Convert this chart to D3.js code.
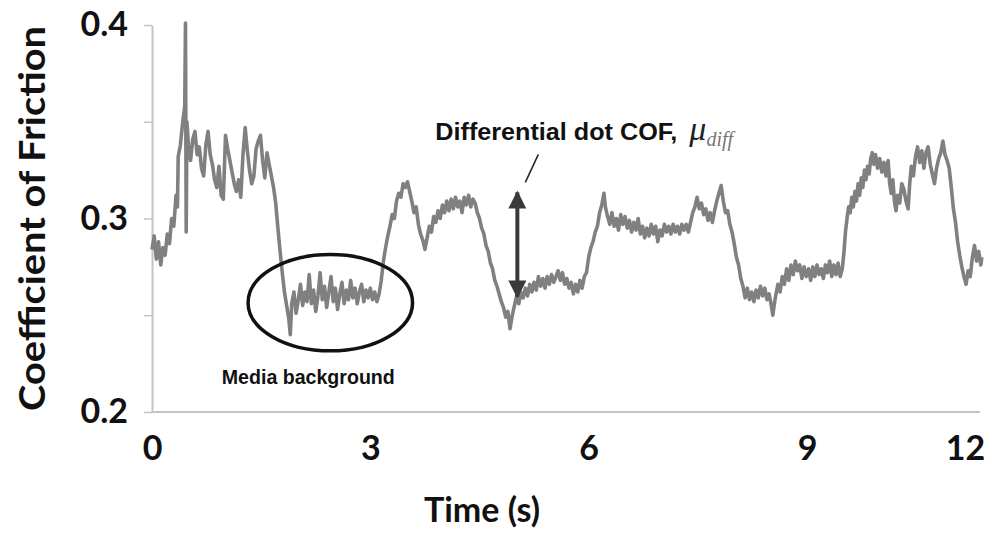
<!DOCTYPE html>
<html>
<head>
<meta charset="utf-8">
<script src="https://cdn.jsdelivr.net/npm/d3@7/dist/d3.min.js"></script>
<style>
body { margin: 0; background: #fff; }
</style>
</head>
<body>
<div id="chart"></div>
<script>
// time (s), coefficient of friction
var cof = [
    [0.00,0.284],[0.03,0.291],[0.06,0.279],[0.09,0.288],[0.12,0.276],[0.15,0.285],[0.18,0.281],
    [0.21,0.292],[0.24,0.287],[0.27,0.300],[0.30,0.296],[0.33,0.312],[0.35,0.306],[0.36,0.332],
    [0.39,0.338],[0.42,0.349],[0.45,0.358],[0.46,0.401],[0.47,0.293],[0.48,0.350],
    [0.50,0.338],[0.53,0.330],[0.56,0.341],[0.59,0.345],[0.62,0.333],[0.65,0.337],[0.68,0.326],
    [0.71,0.322],[0.74,0.338],[0.77,0.345],[0.80,0.333],[0.83,0.328],[0.86,0.320],[0.89,0.316],
    [0.92,0.327],[0.95,0.312],[0.98,0.310],[1.01,0.343],[1.04,0.336],[1.07,0.330],[1.10,0.324],
    [1.13,0.318],[1.16,0.314],[1.19,0.320],[1.22,0.311],[1.25,0.333],[1.28,0.347],[1.31,0.335],
    [1.34,0.325],[1.37,0.318],[1.40,0.322],[1.43,0.336],[1.46,0.340],[1.49,0.343],[1.52,0.330],
    [1.55,0.321],[1.58,0.334],[1.61,0.328],[1.64,0.322],[1.67,0.316],[1.70,0.308],[1.73,0.295],
    [1.76,0.283],[1.79,0.272],[1.82,0.262],[1.85,0.255],[1.88,0.248],[1.90,0.240],[1.92,0.256],
    [1.95,0.262],[1.98,0.251],[2.01,0.258],[2.04,0.266],[2.07,0.255],[2.10,0.262],[2.13,0.257],
    [2.16,0.271],[2.19,0.256],[2.22,0.263],[2.25,0.252],[2.28,0.260],[2.31,0.272],[2.34,0.258],
    [2.37,0.265],[2.40,0.254],[2.43,0.262],[2.46,0.270],[2.49,0.257],[2.52,0.264],[2.55,0.253],
    [2.58,0.261],[2.61,0.267],[2.64,0.256],[2.67,0.263],[2.70,0.258],[2.73,0.268],[2.76,0.259],
    [2.79,0.264],[2.82,0.256],[2.85,0.262],[2.88,0.266],[2.91,0.257],[2.94,0.263],[2.97,0.259],
    [3.00,0.264],[3.03,0.258],[3.06,0.262],[3.09,0.257],[3.12,0.261],[3.15,0.268],[3.18,0.278],
    [3.21,0.285],[3.24,0.291],[3.27,0.296],[3.30,0.302],[3.33,0.300],[3.36,0.309],[3.39,0.313],
    [3.42,0.311],[3.45,0.318],[3.48,0.316],[3.51,0.319],[3.54,0.314],[3.57,0.309],[3.60,0.303],
    [3.63,0.306],[3.66,0.297],[3.69,0.292],[3.72,0.289],[3.75,0.284],[3.78,0.290],[3.81,0.296],
    [3.84,0.293],[3.87,0.301],[3.90,0.298],[3.93,0.304],[3.96,0.300],[3.99,0.307],[4.02,0.303],
    [4.05,0.309],[4.08,0.304],[4.11,0.310],[4.14,0.305],[4.17,0.311],[4.20,0.306],[4.23,0.309],
    [4.26,0.303],[4.29,0.311],[4.32,0.307],[4.35,0.312],[4.38,0.306],[4.41,0.310],[4.44,0.308],
    [4.47,0.303],[4.50,0.300],[4.53,0.295],[4.56,0.292],[4.59,0.286],[4.62,0.283],[4.65,0.277],
    [4.68,0.274],[4.71,0.268],[4.74,0.265],[4.77,0.261],[4.80,0.257],[4.83,0.254],[4.86,0.249],
    [4.89,0.252],[4.92,0.243],[4.95,0.250],[4.98,0.255],[5.01,0.260],[5.04,0.256],[5.07,0.262],
    [5.10,0.259],[5.13,0.264],[5.16,0.260],[5.19,0.266],[5.22,0.262],[5.25,0.267],[5.28,0.263],
    [5.31,0.270],[5.34,0.265],[5.37,0.269],[5.40,0.264],[5.43,0.270],[5.46,0.266],[5.49,0.271],
    [5.52,0.267],[5.55,0.270],[5.58,0.273],[5.61,0.268],[5.64,0.272],[5.67,0.266],[5.70,0.269],
    [5.73,0.264],[5.76,0.267],[5.79,0.261],[5.82,0.266],[5.85,0.262],[5.88,0.268],[5.91,0.264],
    [5.94,0.270],[5.97,0.272],[6.00,0.280],[6.03,0.285],[6.06,0.288],[6.09,0.293],[6.12,0.296],
    [6.15,0.303],[6.18,0.307],[6.21,0.313],[6.23,0.306],[6.26,0.301],[6.29,0.297],[6.32,0.303],
    [6.35,0.296],[6.38,0.300],[6.41,0.294],[6.44,0.302],[6.47,0.297],[6.50,0.301],[6.53,0.295],
    [6.56,0.299],[6.59,0.293],[6.62,0.298],[6.65,0.294],[6.68,0.300],[6.71,0.292],[6.74,0.296],
    [6.77,0.290],[6.80,0.295],[6.83,0.291],[6.86,0.297],[6.89,0.292],[6.92,0.296],[6.95,0.288],
    [6.98,0.294],[7.01,0.291],[7.04,0.297],[7.07,0.293],[7.10,0.296],[7.13,0.292],[7.16,0.297],
    [7.19,0.293],[7.22,0.296],[7.25,0.292],[7.28,0.297],[7.31,0.294],[7.34,0.297],[7.37,0.293],
    [7.40,0.298],[7.43,0.303],[7.46,0.306],[7.49,0.311],[7.52,0.305],[7.55,0.308],[7.58,0.302],
    [7.61,0.305],[7.64,0.299],[7.67,0.303],[7.70,0.298],[7.73,0.304],[7.76,0.309],[7.79,0.313],
    [7.82,0.317],[7.85,0.309],[7.88,0.303],[7.91,0.304],[7.94,0.297],[7.97,0.293],[8.00,0.287],
    [8.03,0.280],[8.06,0.276],[8.09,0.269],[8.12,0.265],[8.15,0.259],[8.18,0.264],[8.21,0.258],
    [8.24,0.262],[8.27,0.257],[8.30,0.263],[8.33,0.259],[8.36,0.265],[8.39,0.260],[8.42,0.264],
    [8.45,0.258],[8.48,0.261],[8.51,0.255],[8.53,0.250],[8.56,0.258],[8.60,0.266],[8.63,0.262],
    [8.66,0.270],[8.69,0.266],[8.72,0.274],[8.75,0.268],[8.78,0.276],[8.81,0.271],[8.84,0.278],
    [8.87,0.273],[8.90,0.276],[8.93,0.269],[8.96,0.275],[8.99,0.270],[9.03,0.274],[9.07,0.268],
    [9.11,0.275],[9.15,0.270],[9.19,0.276],[9.23,0.271],[9.27,0.274],[9.31,0.269],[9.35,0.276],
    [9.39,0.272],[9.43,0.278],[9.47,0.270],[9.51,0.276],[9.55,0.271],[9.59,0.277],[9.63,0.270],
    [9.67,0.274],[9.70,0.282],[9.73,0.293],[9.76,0.300],[9.79,0.306],[9.82,0.303],[9.85,0.311],
    [9.88,0.306],[9.91,0.314],[9.94,0.309],[9.97,0.318],[10.00,0.312],[10.03,0.321],[10.06,0.316],
    [10.09,0.325],[10.12,0.320],[10.15,0.327],[10.18,0.323],[10.21,0.331],[10.24,0.334],[10.27,0.328],
    [10.30,0.333],[10.34,0.326],[10.38,0.331],[10.42,0.324],[10.46,0.329],[10.50,0.322],[10.54,0.330],
    [10.57,0.318],[10.60,0.313],[10.63,0.320],[10.66,0.309],[10.69,0.304],[10.72,0.312],[10.76,0.308],
    [10.80,0.318],[10.84,0.315],[10.88,0.309],[10.92,0.305],[10.95,0.318],[10.98,0.327],[11.02,0.322],
    [11.06,0.332],[11.10,0.337],[11.14,0.329],[11.18,0.335],[11.22,0.326],[11.26,0.334],[11.30,0.337],
    [11.34,0.328],[11.38,0.323],[11.42,0.318],[11.46,0.326],[11.50,0.331],[11.54,0.334],[11.58,0.340],
    [11.62,0.333],[11.66,0.330],[11.70,0.326],[11.74,0.316],[11.78,0.305],[11.82,0.298],[11.86,0.288],
    [11.90,0.281],[11.94,0.275],[11.98,0.270],[12.02,0.266],[12.06,0.273],[12.10,0.270],[12.14,0.280],
    [12.18,0.286],[12.22,0.278],[12.26,0.283],[12.30,0.276],[12.32,0.280]
];

var xTicks = [0, 3, 6, 9, 12];
var yTicks = [0.2, 0.25, 0.3, 0.35, 0.4];
var yLabels = [0.2, 0.3, 0.4];

// annotations, in data units
var bgEllipse = { t: 2.45, cof: 0.2565, halfT: 1.13, halfCof: 0.0249 };
var diffArrow = { t: 5.02, lo: 0.2596, hi: 0.3135 };

var W = 990, H = 533;
var margin = { top: 25, right: 10, bottom: 121, left: 152 },
    width = W - margin.left - margin.right,
    height = H - margin.top - margin.bottom;

// the last tick label (12) sits closer than the others in the original
var x = d3.scaleLinear()
    .domain([0, 9, 12])
    .range([0, 655, 813]);

var y = d3.scaleLinear()
    .domain([0.2, 0.4])
    .range([height, 0]);

var svg = d3.select('#chart').append('svg')
    .attr('width', W)
    .attr('height', H)
    .append('g')
    .attr('transform', 'translate(' + margin.left + ',' + margin.top + ')');

var defs = svg.append('defs');
defs.append('marker')
    .attr('id', 'head')
    .attr('viewBox', '0 0 10 10')
    .attr('refX', 9).attr('refY', 5)
    .attr('markerWidth', 4.5).attr('markerHeight', 4.5)
    .attr('markerUnits', 'strokeWidth')
    .attr('orient', 'auto-start-reverse')
    .append('path')
    .attr('d', 'M0,0 L10,5 L0,10 Z')
    .attr('fill', '#3a3a3a');

// x axis: labels only, plain grey line
var xAxis = svg.append('g')
    .attr('transform', 'translate(0,' + height + ')')
    .call(d3.axisBottom(x).tickValues(xTicks).tickSize(0).tickPadding(24));
xAxis.select('.domain').remove();
xAxis.append('line')
    .attr('x1', 0).attr('x2', 828)
    .attr('stroke', '#c4c4c4').attr('stroke-width', 2);

// y axis
var yAxis = svg.append('g')
    .call(d3.axisLeft(y)
        .tickValues(yTicks)
        .tickSize(8)
        .tickSizeOuter(0)
        .tickPadding(16)
        .tickFormat(function(d) {
            return yLabels.indexOf(d) >= 0 ? d3.format('.1f')(d) : '';
        }));
yAxis.select('.domain').attr('stroke', '#c4c4c4').attr('stroke-width', 2);
yAxis.selectAll('.tick line').attr('stroke', '#c4c4c4').attr('stroke-width', 1.5);

svg.selectAll('.tick text')
    .attr('font-family', 'Lato, sans-serif')
    .attr('font-weight', 700)
    .attr('font-size', '34px')
    .attr('fill', '#111');

// axis titles
svg.append('text')
    .attr('x', 330)
    .attr('y', height + 110)
    .attr('text-anchor', 'middle')
    .attr('font-family', 'Lato, sans-serif')
    .attr('font-weight', 700)
    .attr('font-size', '34px')
    .attr('fill', '#111')
    .text('Time (s)');

svg.append('text')
    .attr('transform', 'translate(-107,' + (height / 2) + ') rotate(-90)')
    .attr('text-anchor', 'middle')
    .attr('font-family', 'Lato, sans-serif')
    .attr('font-weight', 700)
    .attr('font-size', '36px')
    .attr('textLength', 385)
    .attr('lengthAdjust', 'spacingAndGlyphs')
    .attr('fill', '#111')
    .text('Coefficient of Friction');

// the friction trace
var line = d3.line()
    .x(function(d) { return x(d[0]); })
    .y(function(d) { return y(d[1]); });

svg.append('path')
    .datum(cof)
    .attr('d', line)
    .attr('fill', 'none')
    .attr('stroke', '#808080')
    .attr('stroke-width', 3.6)
    .attr('stroke-linejoin', 'round');

// media background ellipse + label
svg.append('ellipse')
    .attr('cx', x(bgEllipse.t))
    .attr('cy', y(bgEllipse.cof))
    .attr('rx', x(bgEllipse.halfT) - x(0))
    .attr('ry', y(0.2) - y(0.2 + bgEllipse.halfCof))
    .attr('fill', 'none')
    .attr('stroke', '#111')
    .attr('stroke-width', 3.5);

svg.append('text')
    .attr('x', x(bgEllipse.t) - 22)
    .attr('y', y(bgEllipse.cof) + 81)
    .attr('text-anchor', 'middle')
    .attr('font-family', 'Liberation Sans, Arial, sans-serif')
    .attr('font-weight', 700)
    .attr('font-size', '20px')
    .attr('textLength', 173)
    .attr('lengthAdjust', 'spacingAndGlyphs')
    .attr('fill', '#111')
    .text('Media background');

// differential arrow
svg.append('line')
    .attr('x1', x(diffArrow.t)).attr('x2', x(diffArrow.t))
    .attr('y1', y(diffArrow.lo)).attr('y2', y(diffArrow.hi))
    .attr('stroke', '#3a3a3a')
    .attr('stroke-width', 4)
    .attr('marker-start', 'url(#head)')
    .attr('marker-end', 'url(#head)');

// leader line and label
svg.append('line')
    .attr('x1', x(diffArrow.t) + 8).attr('y1', y(diffArrow.hi) - 10)
    .attr('x2', x(diffArrow.t) + 21).attr('y2', y(diffArrow.hi) - 38)
    .attr('stroke', '#222').attr('stroke-width', 1.5);

var lab = svg.append('text')
    .attr('x', x(diffArrow.t) - 82)
    .attr('y', y(diffArrow.hi) - 52)
    .attr('font-family', 'Liberation Sans, Arial, sans-serif')
    .attr('font-weight', 700)
    .attr('font-size', '23px')
    .attr('fill', '#111');
lab.append('tspan')
    .attr('textLength', 242)
    .attr('lengthAdjust', 'spacingAndGlyphs')
    .text('Differential dot COF,');
lab.append('tspan')
    .attr('dx', 12)
    .attr('font-family', 'Liberation Serif, serif')
    .attr('font-style', 'italic')
    .attr('font-weight', 400)
    .attr('font-size', '34px')
    .attr('fill', '#222')
    .text('\u03bc');
lab.append('tspan')
    .attr('dy', 6)
    .attr('font-family', 'Liberation Serif, serif')
    .attr('font-style', 'italic')
    .attr('font-weight', 400)
    .attr('font-size', '20px')
    .attr('fill', '#777')
    .text('diff');
</script>
</body>
</html>
